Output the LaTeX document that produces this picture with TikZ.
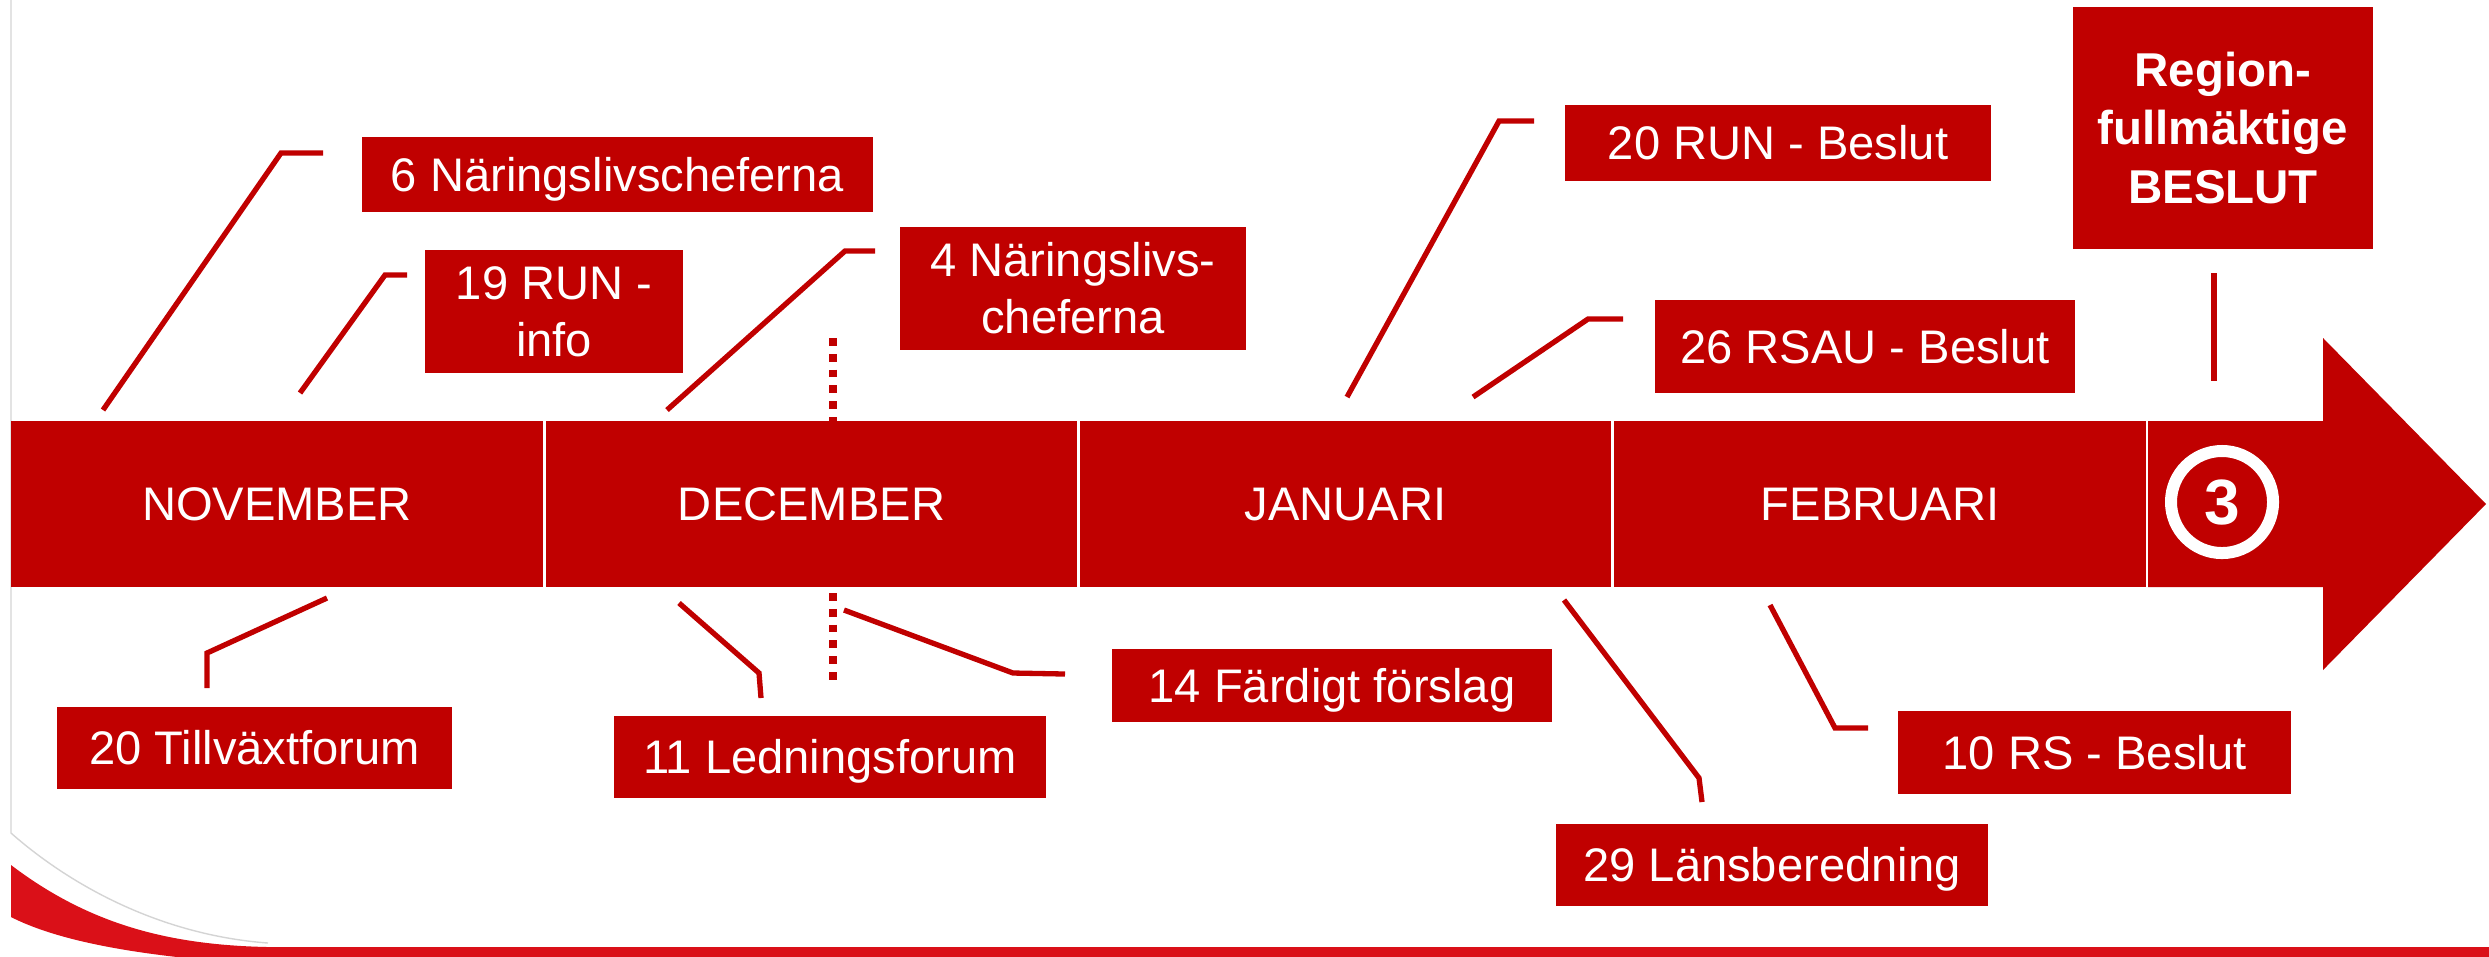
\documentclass[tikz,border=0pt]{standalone}
\usepackage{fontspec}
\setmainfont{Liberation Sans}
\definecolor{morod}{HTML}{C00000}
\definecolor{ljusrod}{HTML}{DA1018}
\definecolor{kantgra}{HTML}{D4D4D4}
\tikzset{
  manad/.style={fill=morod, text=white, inner sep=0pt, minimum width=5.31cm, minimum height=1.66cm, font=\fontsize{13.4}{16.2}\selectfont},
  ruta/.style={fill=morod, text=white, inner sep=0pt, align=center, font=\fontsize{13.4}{16.2}\selectfont},
  enrad/.style={ruta, text height=9.6pt, text depth=0pt},
  streck/.style={draw=morod, line width=0.053cm},
  prickat/.style={draw=morod, line width=0.077cm, dash pattern=on 0.077cm off 0.081cm}
}
\begin{document}
\begin{tikzpicture}[x=0.01cm, y=-0.01cm]
\useasboundingbox (0,0) rectangle (2489,956);
\clip (0,0) rectangle (2489,956);
\fill[ljusrod] (11,865) .. controls (90,925) and (170,945) .. (268,947) -- (2489,947) -- (2489,962) -- (230,962) .. controls (140,955) and (60,942) .. (11,917) -- cycle;
\draw[kantgra, line width=0.4pt] (11,0) -- (11,833) .. controls (70,885) and (160,935) .. (268,943);
\node[manad] (nov) at (277,504) {NOVEMBER};
\node[manad] (dec) at (811.5,504) {DECEMBER};
\node[manad] (jan) at (1345.5,504) {JANUARI};
\node[manad] (feb) at (1880,504) {FEBRUARI};
\fill[morod] (2148,421) -- (2323,421) -- (2323,338) -- (2486,504) -- (2323,670) -- (2323,587) -- (2148,587) -- cycle;
\node[circle, draw=white, line width=0.12cm, minimum size=1.02cm, inner sep=0pt, text=white, font=\bfseries\fontsize{18.2}{20}\selectfont] (tre) at (2222,502) {3};
\node[enrad, minimum width=5.11cm, minimum height=0.75cm] (n6) at (617.5,174.5) {6 Näringslivscheferna};
\node[ruta, minimum width=2.58cm, minimum height=1.23cm] (n19) at (554,311.5) {19 RUN -\\info};
\node[ruta, minimum width=3.46cm, minimum height=1.23cm] (n4) at (1073,288.5) {4 Näringslivs-\\cheferna};
\node[enrad, minimum width=4.26cm, minimum height=0.76cm] (n20r) at (1778,143) {20 RUN - Beslut};
\node[enrad, minimum width=4.20cm, minimum height=0.93cm] (n26) at (1865,346.5) {26 RSAU - Beslut};
\node[ruta, font=\bfseries\fontsize{13.5}{16.6}\selectfont, minimum width=3cm, minimum height=2.42cm] (nrf) at (2223,128) {Region-\\fullmäktige\\BESLUT};
\node[enrad, minimum width=3.95cm, minimum height=0.82cm] (n20t) at (254.5,748) {20 Tillväxtforum};
\node[enrad, minimum width=4.32cm, minimum height=0.82cm] (n11) at (830,757) {11 Ledningsforum};
\node[enrad, minimum width=4.40cm, minimum height=0.73cm] (n14) at (1332,685.5) {14 Färdigt förslag};
\node[enrad, minimum width=4.32cm, minimum height=0.82cm] (n29) at (1772,865) {29 Länsberedning};
\node[enrad, minimum width=3.93cm, minimum height=0.83cm] (n10) at (2094.5,752.5) {10 RS - Beslut};
\path (103,410) coordinate (a6) (281,153) coordinate (b6) (323,153) coordinate (c6);
\path (300,393) coordinate (a19) (385,275) coordinate (b19) (407,275) coordinate (c19);
\path (667,410) coordinate (a4) (845,251) coordinate (b4) (875,251) coordinate (c4);
\path (1347,397) coordinate (a20r) (1499,121) coordinate (b20r) (1534,121) coordinate (c20r);
\path (1473,397) coordinate (a26) (1588,319) coordinate (b26) (1623,319) coordinate (c26);
\path (2214,273) coordinate (arf) (2214,381) coordinate (brf);
\path (327,598) coordinate (a20t) (207,653) coordinate (b20t) (207,688) coordinate (c20t);
\path (679,603) coordinate (a11) (759,673) coordinate (b11) (761,698) coordinate (c11);
\path (844,610) coordinate (a14) (1013,673) coordinate (b14) (1065,674) coordinate (c14);
\path (1564,600) coordinate (a29) (1699,778) coordinate (b29) (1702,802) coordinate (c29);
\path (1770,605) coordinate (a10) (1835,728) coordinate (b10) (1868,728) coordinate (c10);
\path (833,338) coordinate (p1) (833,421) coordinate (p2) (833,593) coordinate (p3) (833,681) coordinate (p4);
\draw[streck] (a6) -- (b6) -- (c6);
\draw[streck] (a19) -- (b19) -- (c19);
\draw[streck] (a4) -- (b4) -- (c4);
\draw[streck] (a20r) -- (b20r) -- (c20r);
\draw[streck] (a26) -- (b26) -- (c26);
\draw[streck] (arf) -- (brf);
\draw[streck] (a20t) -- (b20t) -- (c20t);
\draw[streck] (a11) -- (b11) -- (c11);
\draw[streck] (a14) -- (b14) -- (c14);
\draw[streck] (a29) -- (b29) -- (c29);
\draw[streck] (a10) -- (b10) -- (c10);
\draw[prickat] (p1) -- (p2);
\draw[prickat] (p3) -- (p4);
\end{tikzpicture}
\end{document}
